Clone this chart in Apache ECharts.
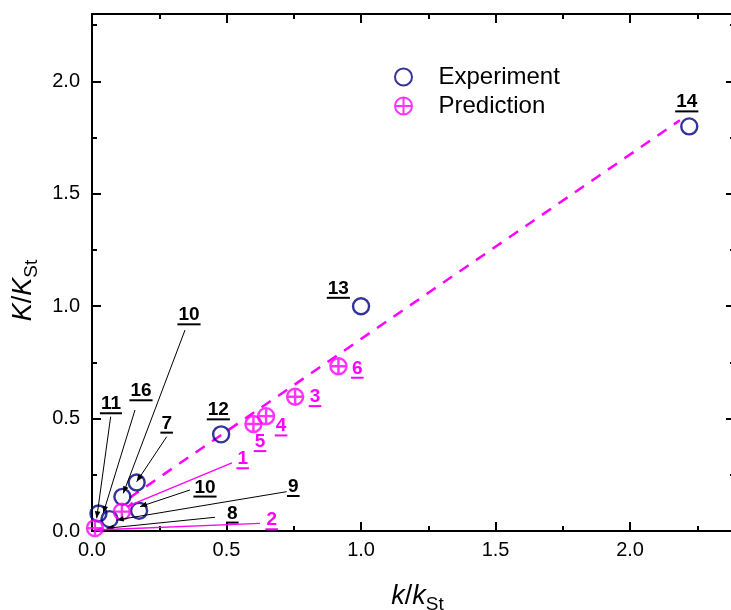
<!DOCTYPE html>
<html><head><meta charset="utf-8">
<script src="https://cdn.jsdelivr.net/npm/echarts@6/dist/echarts.min.js"></script>
<style>html,body{margin:0;padding:0;background:#fff}#c{width:731px;height:610px}</style>
</head><body><div id="c"></div>
<script>
// ---- data ----
const expK  = [2.22, 1.00, 0.48, 0.166, 0.113, 0.175, 0.065, 0.024];
const expKK = [1.80, 1.00, 0.43, 0.216, 0.152, 0.090, 0.053, 0.078];
const predK  = [0.111, 0.011, 0.755, 0.647, 0.600, 0.916];
const predKK = [0.086, 0.013, 0.597, 0.511, 0.476, 0.733];
const fitK  = [0.14, 2.185];
const fitKK = [0.148, 1.827];
const xTicks = [0, 0.5, 1.0, 1.5, 2.0];
const yTicks = [0, 0.5, 1.0, 1.5, 2.0];

// ---- annotation layout (pixel offsets) ----
const annotations = [
 {s:0, i:0, t:'14', lab:[-2.5,-24.3]},
 {s:0, i:1, t:'13', lab:[-22.7,-17.7]},
 {s:0, i:2, t:'12', lab:[-2.8,-24.3]},
 {s:0, i:3, t:'7',  lab:[30,-59.1],   from:[0,13.4],    tip:[0,-0.7]},
 {s:0, i:4, t:'10', lab:[66.6,-181.8], from:[-4,15],    tip:[0.9,-3.5]},
 {s:0, i:5, t:'10', lab:[65.9,-23.5], from:[-15,2.7],   tip:[0.9,-4.1]},
 {s:0, i:6, t:'9',  lab:[183.8,-32.4], from:[-6.6,5],   tip:[7.2,0.9]},
 {s:0, i:6, t:'16', lab:[31.5,-128.1], from:[-6,19],    tip:[-6.2,-6.1]},
 {s:0, i:6, t:'8',  lab:[122.8,-5.8], from:[-17.3,4],   tip:[-2.8,9.2]},
 {s:0, i:7, t:'11', lab:[12.5,-109.5], from:[-0.3,12.7], tip:[-1.8,4.8]},
 {s:1, i:0, t:'1',  lab:[120.8,-52.7], from:[-10.7,4],  tip:[4.8,-5]},
 {s:1, i:1, t:'2',  lab:[176.7,-8.1], from:[-11.7,3.3], tip:[0,1.9]},
 {s:1, i:2, t:'3',  lab:[19.9,0]},
 {s:1, i:3, t:'4',  lab:[15,10]},
 {s:1, i:4, t:'5',  lab:[6.6,17.8]},
 {s:1, i:5, t:'6',  lab:[18.9,2.2]}
];

const FONT = "'Liberation Sans', Arial, sans-serif";
const LABFONT = "bold 19px 'Liberation Sans', Arial, sans-serif";
const NAVY = '#000080', MAG = '#ff00ff';
const chart = echarts.init(document.getElementById('c'), null, {renderer:'canvas'});

const fmt = v => (xTicks.some(t => Math.abs(t - v) < 1e-6) ? v.toFixed(1) : '');
const fmtY = v => (yTicks.some(t => Math.abs(t - v) < 1e-6) ? v.toFixed(1) : '');
const lineSt = {color:'#000', width:2};
function axisX(pos, minor, withLabel) {
  return {
    type:'value', position:pos, min:0, max:2.39, interval: minor ? 0.25 : 0.5,
    axisLine:{show:!minor, onZero:false, lineStyle:lineSt},
    axisTick:{show:true, inside:true, length: minor ? 5 : 9, lineStyle:lineSt},
    axisLabel:{show:!!withLabel, formatter:fmt, fontSize:20, color:'#000', fontFamily:FONT, margin:9},
    splitLine:{show:false}
  };
}
function axisY(pos, minor, withLabel) {
  return {
    type:'value', position:pos, min:0, max:2.3, interval: minor ? 0.25 : 0.5,
    axisLine:{show:!minor, onZero:false, lineStyle:lineSt},
    axisTick:{show:true, inside:true, length: minor ? 5 : 9, lineStyle:lineSt},
    axisLabel:{show:!!withLabel, formatter:fmtY, fontSize:20, color:'#000', fontFamily:FONT, margin:12},
    splitLine:{show:false}
  };
}
const nameRich = {
  i:{fontSize:27, fontStyle:'italic', fontFamily:FONT, color:'#000', padding:[0,0,8,0]},
  n:{fontSize:27, fontFamily:FONT, color:'#000', padding:[0,0,8,0]},
  s:{fontSize:19, fontFamily:FONT, color:'#000', padding:[8,0,0,0]}
};
const xMain = axisX('bottom', false, true);
xMain.name = '{i|k}{n|/}{i|k}{s|St}';
xMain.nameLocation = 'middle';
xMain.nameGap = 52;
xMain.nameTextStyle = {rich:nameRich, padding:[0,0,0,8]};
const yMain = axisY('left', false, true);
yMain.name = '{i|K}{n|/}{i|K}{s|St}';
yMain.nameLocation = 'middle';
yMain.nameGap = 46;
yMain.nameTextStyle = {rich:nameRich, padding:[0,36,0,0]};

const crossPath = 'path://M0,-8A8,8,0,1,1,0,8A8,8,0,1,1,0,-8ZM0,-8L0,8M-8,0L8,0';

chart.setOption({
  animation:false,
  backgroundColor:'#fff',
  grid:{left:92, right:-4, top:14, bottom:79, containLabel:false, outerBoundsMode:'none'},
  xAxis:[xMain, axisX('bottom', true), axisX('top', false), axisX('top', true)],
  yAxis:[yMain, axisY('left', true), axisY('right', false), axisY('right', true)],
  legend:{
    orient:'vertical', left:389, top:60, itemWidth:60, itemHeight:17, itemGap:5,
    textStyle:{fontSize:24, color:'#000', fontFamily:FONT},
    data:['Experiment','Prediction']
  },
  series:[
    {
      name:'Fit', type:'line', xAxisIndex:0, yAxisIndex:0, symbol:'none', z:1,
      data: fitK.map((k, j) => [k, fitKK[j]]),
      lineStyle:{color:MAG, width:2.5, type:[11,9]}
    },
    {
      name:'Experiment', type:'scatter', xAxisIndex:0, yAxisIndex:0, symbol:'circle', symbolSize:16, z:3,
      data: expK.map((k, j) => [k, expKK[j]]),
      itemStyle:{color:'rgba(0,0,0,0)', borderColor:NAVY, borderWidth:2.4}
    },
    {
      name:'Prediction', type:'scatter', xAxisIndex:0, yAxisIndex:0, symbol:crossPath, symbolKeepAspect:true,
      symbolSize:16, z:4,
      data: predK.map((k, j) => [k, predKK[j]]),
      itemStyle:{color:'rgba(0,0,0,0)', borderColor:MAG, borderWidth:2.4}
    }
  ]
});

// ---- annotations placed through the chart's own scales ----
const ctx = document.createElement('canvas').getContext('2d');
ctx.font = LABFONT;
const srcs = [[expK, expKK], [predK, predKK]];
const gfx = [];
annotations.forEach(a => {
  const col = a.s === 0 ? '#000' : MAG;
  const d = srcs[a.s];
  const p = chart.convertToPixel({seriesIndex: a.s + 1}, [d[0][a.i], d[1][a.i]]);
  const lx = p[0] + a.lab[0], ly = p[1] + a.lab[1];
  const w = ctx.measureText(a.t).width + 2;
  gfx.push({type:'text', x:lx, y:ly, z:20, silent:true,
    style:{text:a.t, fill:col, font:LABFONT, align:'center', verticalAlign:'middle'}});
  gfx.push({type:'rect', z:20, silent:true, shape:{x:lx - w/2, y:ly + 8.3, width:w, height:2}, style:{fill:col}});
  if (a.from) {
    const x1 = lx + a.from[0], y1 = ly + a.from[1];
    const x2 = p[0] + a.tip[0], y2 = p[1] + a.tip[1];
    gfx.push({type:'line', z:20, silent:true, shape:{x1, y1, x2, y2}, style:{stroke:col, lineWidth: a.s === 0 ? 1 : 1.3}});
    const dx = x2 - x1, dy = y2 - y1, L = Math.hypot(dx, dy);
    const ux = dx / L, uy = dy / L, px = -uy, py = ux;
    const AL = 7, AW = 2.8;
    gfx.push({type:'polygon', z:20, silent:true, shape:{points:[
      [x2, y2], [x2 - ux*AL + px*AW, y2 - uy*AL + py*AW], [x2 - ux*AL - px*AW, y2 - uy*AL - py*AW]
    ]}, style:{fill:col}});
  }
});
chart.setOption({graphic: gfx});
</script>
</body></html>
